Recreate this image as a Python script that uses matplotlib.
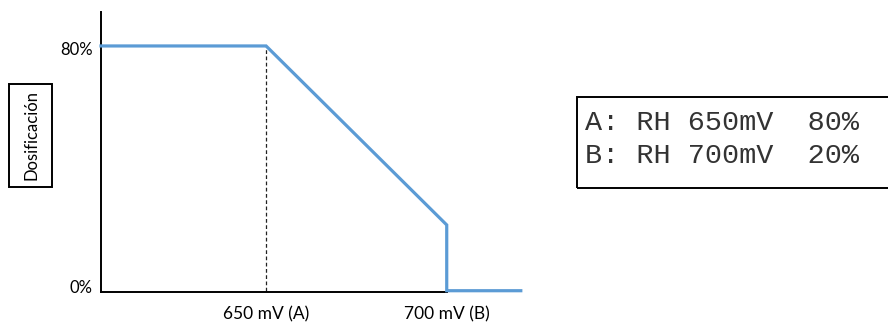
import matplotlib.pyplot as plt
import matplotlib.transforms as mtransforms
from matplotlib.patches import Rectangle

# redox (mV) vs dosing curve
mv = [604.3, 650, 700, 700, 720.5]
dose = [80, 80, 21.5, 0, 0]

xticks = [650, 700]
xlabels = ["650 mV (A)", "700 mV (B)"]
yticks = [0, 80]
ylabels = ["0%", "80%"]

box_lines = ["A: RH 650mV  80%", "B: RH 700mV  20%"]

W, H = 888, 325
fig = plt.figure(figsize=(W / 100, H / 100), dpi=100)
plt.rcParams['font.family'] = ['Lato', 'DejaVu Sans']

def fx(px):
    return px / W

def fy(py):
    return 1 - py / H

ax = fig.add_axes([fx(101), fy(292), fx(530) - fx(101), fy(12) - fy(292)])
ax.plot(mv, dose, color='#5B9BD5', lw=2.3, clip_on=False, zorder=3, solid_joinstyle='miter')
ax.plot([650, 650], [0, 80], color='#222222', lw=0.9, ls=(0, (3, 2)), zorder=2)

ax.set_xlim(604.3, 723.05)
ax.set_ylim(-0.42, 91.1)
for s in ['top', 'right']:
    ax.spines[s].set_visible(False)
ax.spines['left'].set_linewidth(1.4)
ax.spines['bottom'].set_linewidth(1.4)
ax.spines['bottom'].set_bounds(604.3, 700)

ax.set_xticks(xticks)
ax.set_xticklabels(xlabels, fontsize=12.5)
ax.set_yticks(yticks)
ax.set_yticklabels(ylabels, fontsize=12)
ax.tick_params(axis='x', length=0, pad=10)
ax.tick_params(axis='y', length=0, pad=6)
# nudge y labels: 0% sits a bit above the axis, 80% a bit below the line
shifts = [4, -3]
for lab, dy in zip(ax.get_yticklabels(), shifts):
    lab.set_transform(lab.get_transform() + mtransforms.ScaledTranslation(0, dy / 100, fig.dpi_scale_trans))

# y label box
fig.patches.append(Rectangle((fx(9), fy(187)), fx(52) - fx(9), fy(84) - fy(187),
                             transform=fig.transFigure, fill=False, lw=1.4, ec='black'))
fig.text(fx(31), fy(135.5), "Dosificación", rotation=90, ha='center', va='center', fontsize=12)

# info box on the right
fig.patches.append(Rectangle((fx(577), fy(188)), fx(900) - fx(577), fy(97) - fy(188),
                             transform=fig.transFigure, fill=False, lw=1.4, ec='black'))
for i, line in enumerate(box_lines):
    fig.text(fx(585), fy(123 + 33 * i), line, ha='left', va='center', fontsize=20.5,
             family='Liberation Mono', color='#333333')

fig.savefig('out.png', dpi=100)
